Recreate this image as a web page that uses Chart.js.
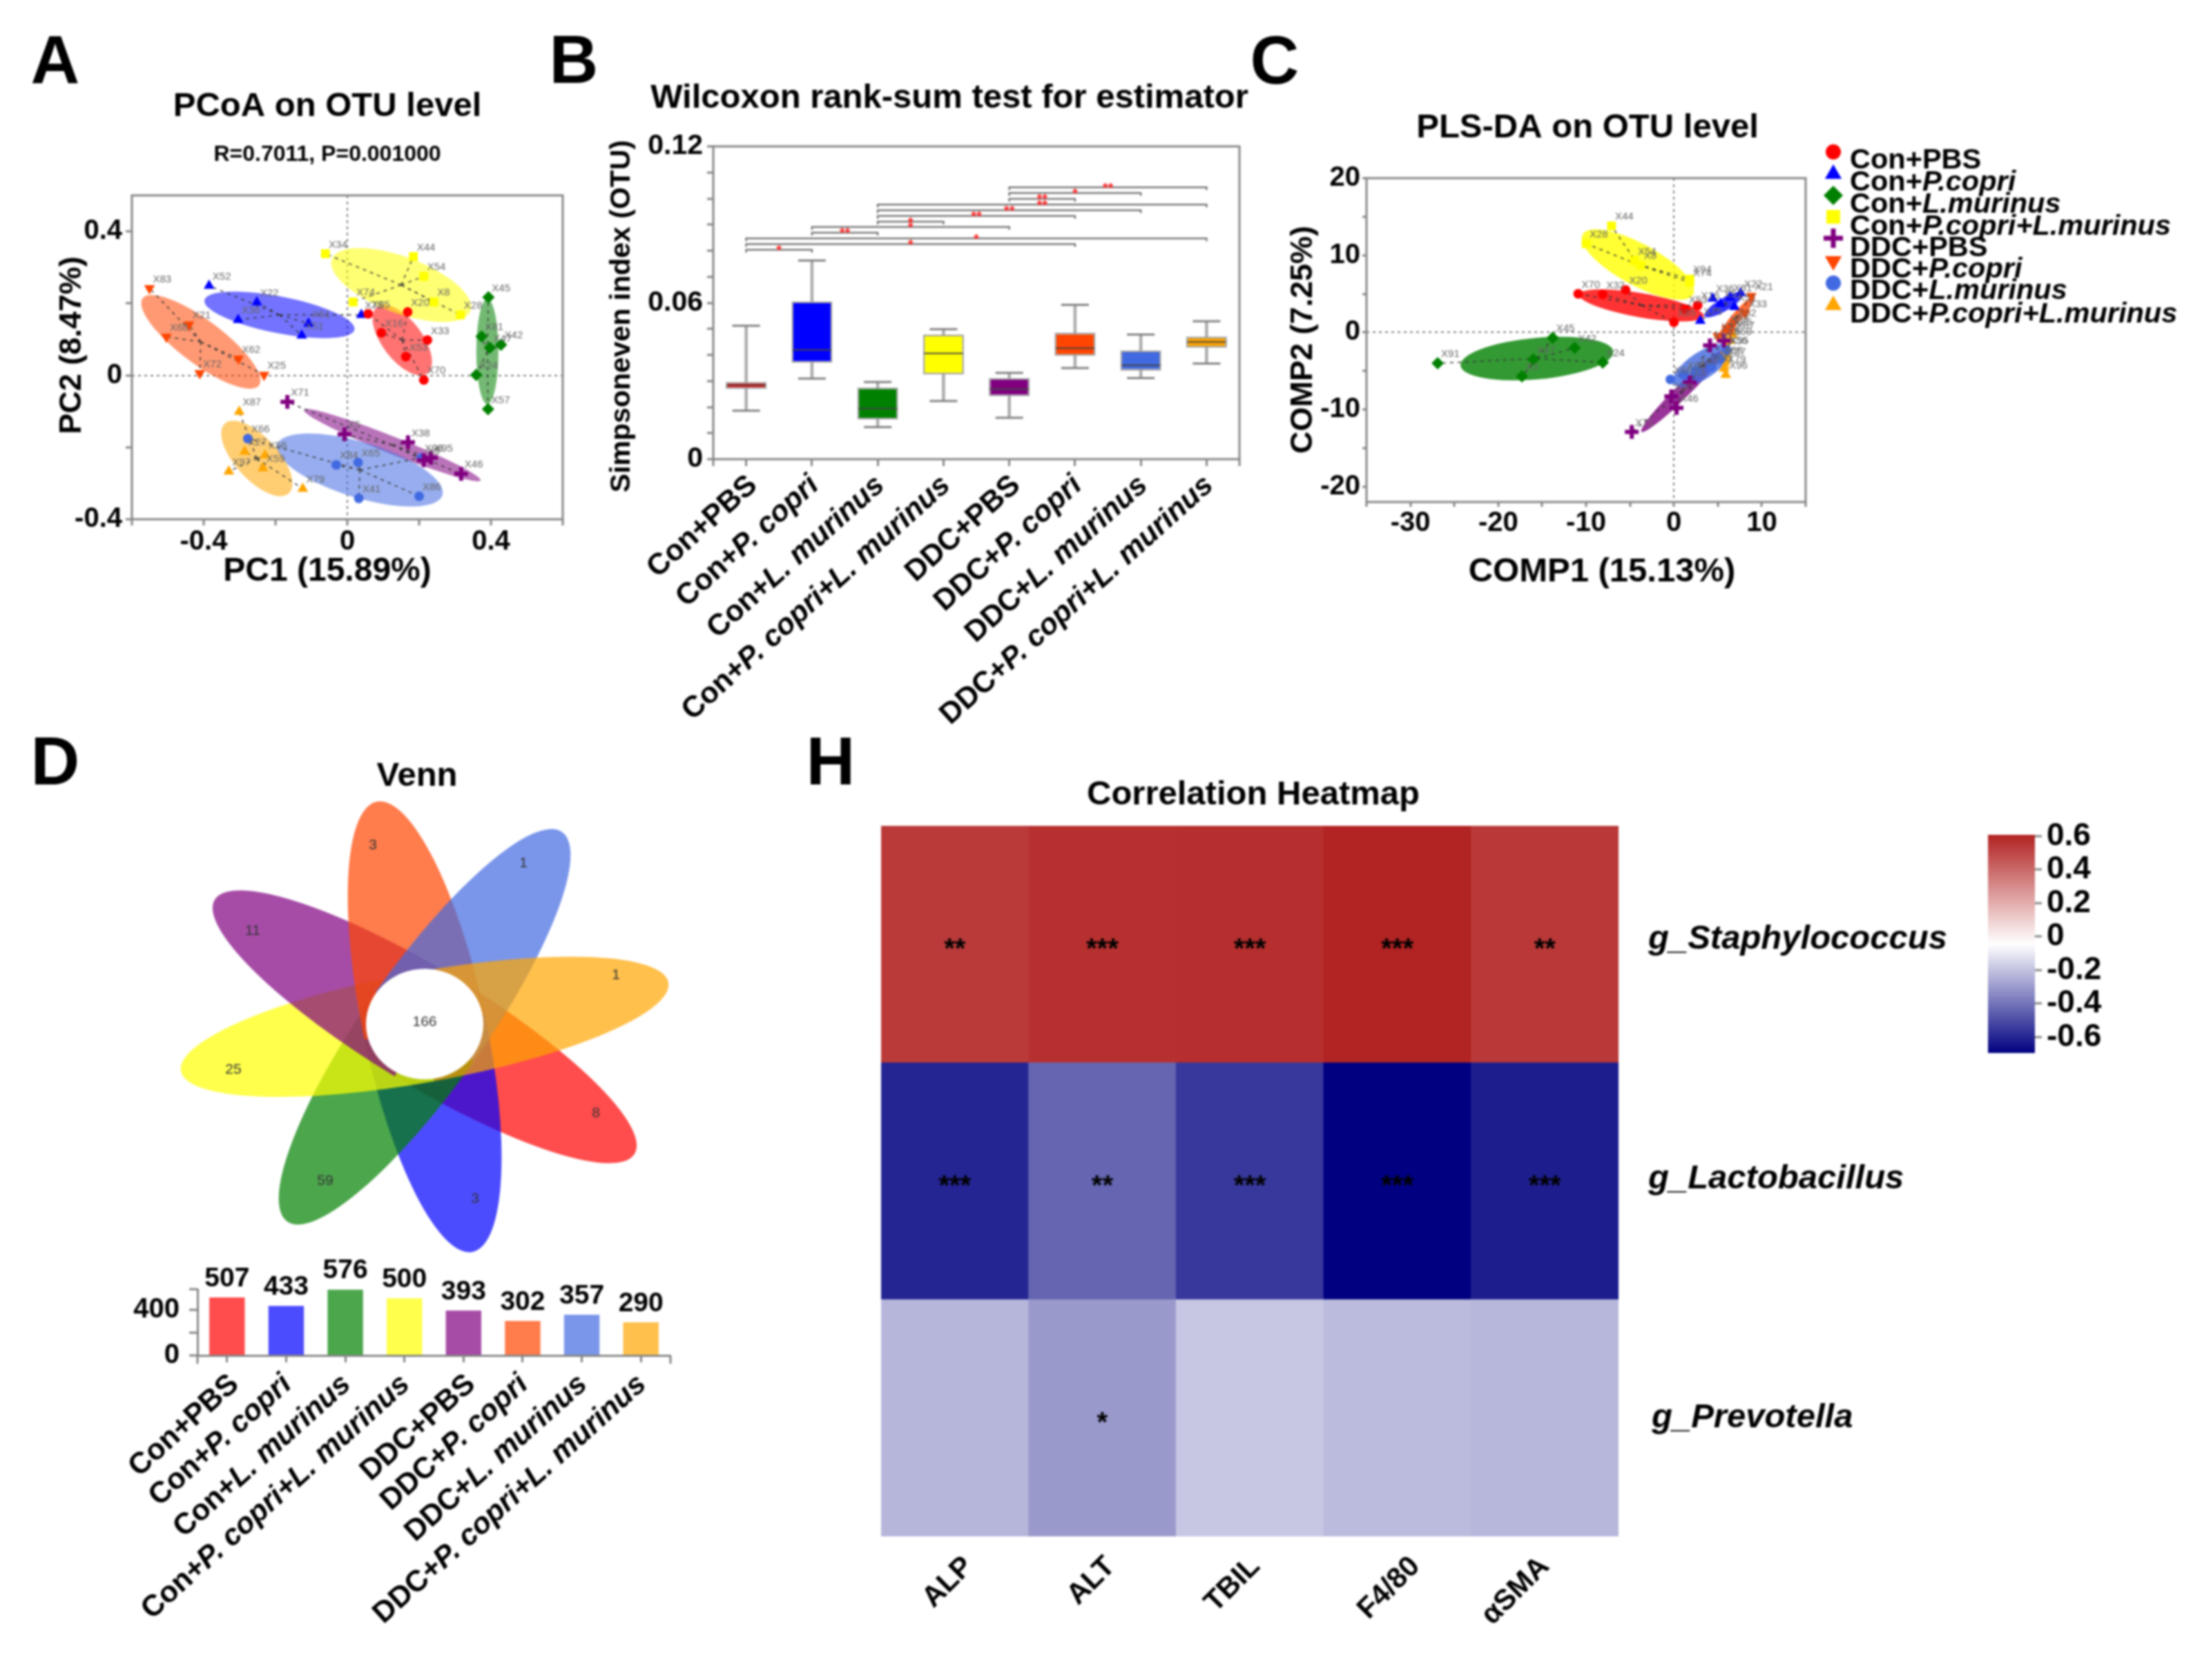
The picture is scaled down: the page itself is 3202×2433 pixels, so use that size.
<!DOCTYPE html>
<html>
<head>
<meta charset="utf-8">
<title>Gut microbiota panels</title>
<script src="https://cdn.jsdelivr.net/npm/chart.js@4"></script>
<style>
body { margin: 0; background: #fff; }
#figure { position: relative; width: 3202px; height: 2433px; overflow: hidden; filter: blur(1.4px); }
canvas { position: absolute; left: 0; top: 0; }
</style>
</head>
<body>
<div id="figure">
<canvas id="chart-pcoa" width="3202" height="2433"></canvas>
<canvas id="chart-box" width="3202" height="2433"></canvas>
<canvas id="chart-plsda" width="3202" height="2433"></canvas>
<canvas id="chart-venn" width="3202" height="2433"></canvas>
<canvas id="chart-count" width="3202" height="2433"></canvas>
<canvas id="chart-heat" width="3202" height="2433"></canvas>
<canvas id="chart-scale" width="3202" height="2433"></canvas>
</div>
<script>
// groups, same order everywhere
const group_names = ["Con+PBS", "Con+P. copri", "Con+L. murinus", "Con+P. copri+L. murinus", "DDC+PBS", "DDC+P. copri", "DDC+L. murinus", "DDC+P. copri+L. murinus"];
const legend_names = ["Con+PBS", "Con+P.copri", "Con+L.murinus", "Con+P.copri+L.murinus", "DDC+PBS", "DDC+P.copri", "DDC+L.murinus", "DDC+P.copri+L.murinus"];
const group_colors = ["#FF0000", "#0000FF", "#008000", "#FFFF00", "#800080", "#FF4500", "#4169E1", "#FFA500"];
const group_markers = ["circle", "triangle", "rectRot", "rect", "cross", "triangle", "circle", "triangle"];
const group_rotation = [0, 0, 0, 0, 0, 180, 0, 0];

// A: PCoA
const pcoa_x_con_pbs = [0.058, 0.168, 0.095, 0.223, 0.163, 0.213];
const pcoa_y_con_pbs = [0.171, 0.176, 0.118, 0.098, 0.052, -0.013];
const pcoa_n_con_pbs = ["X85", "X20", "X16", "X33", "X53", "X70"];
const pcoa_x_con_pc = [-0.385, -0.252, -0.304, -0.108, -0.127, 0.039];
const pcoa_y_con_pc = [0.249, 0.203, 0.154, 0.144, 0.111, 0.168];
const pcoa_n_con_pc = ["X52", "X22", "X36", "X61", "X51", "X75"];
const pcoa_x_con_lm = [0.393, 0.374, 0.397, 0.428, 0.359, 0.392];
const pcoa_y_con_lm = [0.217, 0.108, 0.077, 0.085, 0.001, -0.094];
const pcoa_n_con_lm = ["X45", "X81", "X47", "X42", "X24", "X57"];
const pcoa_x_con_both = [-0.061, 0.184, 0.213, 0.241, 0.315, 0.016];
const pcoa_y_con_both = [0.338, 0.330, 0.275, 0.204, 0.168, 0.204];
const pcoa_n_con_both = ["X34", "X44", "X54", "X8", "X28", "X74"];
const pcoa_x_ddc_pbs = [-0.167, -0.008, 0.169, 0.233, 0.213, 0.317];
const pcoa_y_ddc_pbs = [-0.074, -0.164, -0.186, -0.229, -0.236, -0.274];
const pcoa_n_ddc_pbs = ["X71", "X5", "X38", "X95", "X9", "X46"];
const pcoa_x_ddc_pc = [-0.551, -0.441, -0.504, -0.303, -0.411, -0.232];
const pcoa_y_ddc_pc = [0.242, 0.141, 0.107, 0.046, 0.006, 0.001];
const pcoa_n_ddc_pc = ["X83", "X21", "X68", "X62", "X72", "X25"];
const pcoa_x_ddc_lm = [-0.277, -0.031, 0.030, 0.206, 0.032, 0.200];
const pcoa_y_ddc_lm = [-0.176, -0.249, -0.242, -0.229, -0.342, -0.336];
const pcoa_n_ddc_lm = ["X66", "X84", "X65", "X98", "X41", "X86"];
const pcoa_x_ddc_both = [-0.301, -0.286, -0.229, -0.235, -0.330, -0.124];
const pcoa_y_ddc_both = [-0.101, -0.212, -0.222, -0.258, -0.267, -0.315];
const pcoa_n_ddc_both = ["X87", "X27", "X56", "X59", "X97", "X79"];
// centre x, centre y, end of long axis x, y, short/long ratio
const pcoa_ellipses = [
    [0.153, 0.098, 0.223, 0.006, 0.48], [-0.189, 0.168, 0.020, 0.127, 0.24],
    [0.390, 0.066, 0.390, -0.080, 0.21], [0.150, 0.251, 0.343, 0.179, 0.38],
    [0.125, -0.194, 0.371, -0.292, 0.09], [-0.408, 0.093, -0.246, -0.028, 0.30],
    [0.035, -0.263, 0.265, -0.333, 0.32], [-0.252, -0.231, -0.163, -0.328, 0.45]
];
const pcoa_ticks = [-0.6, -0.4, -0.2, 0, 0.2, 0.4, 0.6];
const pcoa_yticks = [-0.4, -0.2, 0, 0.2, 0.4];
const pcoa_labelled = [-0.4, 0, 0.4];

// B: box plot
const box_low = [0.0186, 0.0309, 0.0123, 0.0223, 0.0159, 0.0350, 0.0311, 0.0367];
const box_q1 = [0.0270, 0.0370, 0.0152, 0.0325, 0.0242, 0.0397, 0.0340, 0.0428];
const box_median = [0.0284, 0.0419, 0.0194, 0.0406, 0.0269, 0.0426, 0.0360, 0.0450];
const box_q3 = [0.0296, 0.0605, 0.0275, 0.0478, 0.0311, 0.0485, 0.0417, 0.0470];
const box_high = [0.0512, 0.0762, 0.0296, 0.0499, 0.0331, 0.0592, 0.0478, 0.0529];
const bracket_from = [0, 0, 0, 1, 1, 2, 2, 2, 2, 4, 4, 4];
const bracket_to = [1, 5, 7, 2, 4, 3, 5, 6, 7, 5, 6, 7];
const bracket_height = [0.0803, 0.0825, 0.0847, 0.0869, 0.0891, 0.0911, 0.0933, 0.0955, 0.0977, 0.0999, 0.1021, 0.1043];
const bracket_stars = ["*", "*", "*", "**", "*", "*", "**", "**", "**", "**", "*", "**"];
const box_ticks = [0, 0.01, 0.02, 0.03, 0.04, 0.05, 0.06, 0.07, 0.08, 0.09, 0.10, 0.11, 0.12];
const box_labelled = [0, 0.06, 0.12];

// C: PLS-DA
const pls_x_con_pbs = [-10.9, -8.1, -5.5, 2.7, 1.3, 0];
const pls_y_con_pbs = [5, 4.9, 5.5, 3.5, 3, 1.3];
const pls_n_con_pbs = ["X70", "X32", "X20", "X16", "X53", "X85"];
const pls_x_con_pc = [3, 4.4, 5.3, 6.4, 6.9, 7.6];
const pls_y_con_pc = [1.5, 4.4, 3.7, 4.5, 3.3, 5.1];
const pls_n_con_pc = ["X75", "X36", "X52", "X61", "X51", "X22"];
const pls_x_con_lm = [-26.9, -13.8, -11.3, -8.1, -16, -17.3];
const pls_y_con_lm = [-4, -0.7, -2, -3.9, -3.5, -5.7];
const pls_n_con_lm = ["X91", "X45", "X42", "X24", "X47", "X3"];
const pls_x_con_both = [-7.1, -10, -4.5, -3.8, 1.8, 1.8];
const pls_y_con_both = [13.8, 11.5, 9.3, 8.7, 6.9, 6.5];
const pls_n_con_both = ["X44", "X28", "X54", "X8", "X94", "X74"];
const pls_x_ddc_pbs = [-4.8, 0.3, -0.3, 1.8, 4.1, 5.7];
const pls_y_ddc_pbs = [-12.9, -9.8, -8.3, -6.5, -1.7, -1.1];
const pls_n_ddc_pbs = ["X71", "X46", "X38", "X5", "X95", "X9"];
const pls_x_ddc_pc = [8.8, 8.1, 6.9, 6, 5, 6.4];
const pls_y_ddc_pc = [4.7, 2.5, 1.3, 0.5, -0.5, 0.1];
const pls_n_ddc_pc = ["X21", "X33", "X62", "X83", "X72", "X25"];
const pls_x_ddc_lm = [-0.4, 1.1, 2.5, 4.3, 6, 5.3];
const pls_y_ddc_lm = [-6.1, -5.5, -5, -4.5, -2.3, -3.5];
const pls_n_ddc_lm = ["X66", "X84", "X65", "X41", "X35", "X86"];
const pls_x_ddc_both = [5.9, 5.7, 5.9, 6.4, 6.7, 5.7];
const pls_y_ddc_both = [-5.5, -3.7, -2.3, -1.1, -0.3, -4.7];
const pls_n_ddc_both = ["X96", "X27", "X56", "X59", "X87", "X79"];
const pls_ellipses = [
    [-3.7, 3.5, 3.4, 2.1, 0.19], [5.7, 3.6, 7.9, 5.1, 0.28],
    [-15.6, -3.4, -6.9, -2.5, 0.27], [-4.1, 8.8, 2.2, 4.9, 0.33],
    [1.0, -7.6, 5.7, -2.3, 0.12], [7.1, 1.9, 9.2, 4.7, 0.17],
    [3.2, -4.3, 6.4, -1.9, 0.40], [6, -2.7, 6, -5.1, 0.2]
];
const pls_xticks = [-35, -30, -25, -20, -15, -10, -5, 0, 5, 10, 15];
const pls_yticks = [-20, -15, -10, -5, 0, 5, 10, 15, 20];
const pls_xlabelled = [-30, -20, -10, 0, 10];
const pls_ylabelled = [-20, -10, 0, 10, 20];

// D: Venn flower and set sizes
const venn_counts = [8, 3, 59, 25, 11, 3, 1, 1];
const venn_core = 166;
const set_sizes = [507, 433, 576, 500, 393, 302, 357, 290];
const set_ticks = [0, 200, 400, 580];
const set_labelled = [0, 400];

// H: correlation heatmap
const heat_cols = ["ALP", "ALT", "TBIL", "F4/80", "αSMA"];
const heat_rows = ["g_Prevotella", "g_Lactobacillus", "g_Staphylococcus"];
const heat_prevotella = [-0.229, -0.304, -0.186, -0.217, -0.227];
const heat_lactobacillus = [-0.603, -0.437, -0.552, -0.695, -0.621];
const heat_staphylococcus = [0.537, 0.567, 0.573, 0.605, 0.543];
const stars_prevotella = ["", "*", "", "", ""];
const stars_lactobacillus = ["***", "**", "***", "***", "***"];
const stars_staphylococcus = ["**", "***", "***", "***", "**"];
const scale_ticks = [-0.6, -0.4, -0.2, 0, 0.2, 0.4, 0.6];
const scale_min = -0.695;
const scale_max = 0.608;

const FONT = '"Liberation Sans", Arial, sans-serif';
const AXIS = "#858585";
const W = 3202, H = 2433;
const ROOM = 160; // tick labels get clipped to the axis box, so every axis keeps this much

function bold(size) { return "bold " + size + "px " + FONT; }

function alpha(hex, a) {
    const n = parseInt(hex.slice(1), 16);
    return "rgba(" + (n >> 16) + "," + ((n >> 8) & 255) + "," + (n & 255) + "," + a + ")";
}

function putText(ctx, text, x, y, font, align, rot, color) {
    ctx.save();
    ctx.font = font;
    ctx.fillStyle = color || "#000";
    ctx.textAlign = align || "center";
    ctx.textBaseline = "middle";
    ctx.translate(x, y);
    if (rot) ctx.rotate(rot * Math.PI / 180);
    ctx.fillText(text, 0, 3);
    ctx.restore();
}

// "Con+" upright, species part italic; anchor is the end of the text when endAnchor
function putGroup(ctx, name, x, y, size, rot, endAnchor) {
    const plain = name.slice(0, 4);
    const rest = name.slice(4);
    const restFont = (rest === "PBS" ? "bold " : "italic bold ") + size + "px " + FONT;
    ctx.save();
    ctx.fillStyle = "#000";
    ctx.textBaseline = "middle";
    ctx.textAlign = "left";
    ctx.translate(x, y);
    ctx.rotate(rot * Math.PI / 180);
    ctx.font = bold(size);
    const w1 = ctx.measureText(plain).width;
    ctx.font = restFont;
    const w2 = ctx.measureText(rest).width;
    const start = endAnchor ? -(w1 + w2) : 0;
    ctx.font = bold(size);
    ctx.fillText(plain, start, 0);
    ctx.font = restFont;
    ctx.fillText(rest, start + w1, 0);
    ctx.restore();
}

// titles, axis names, panel letters, frame. Coordinates are page pixels.
Chart.register({
    id: "page",
    afterDraw(chart, args, opts) {
        const ctx = chart.ctx;
        const a = chart.chartArea;
        if (opts.frame) {
            ctx.save();
            ctx.strokeStyle = AXIS;
            ctx.lineWidth = 3;
            ctx.strokeRect(a.left, a.top, a.width, a.height);
            ctx.restore();
        }
        if (opts.endTicks) {
            ctx.save();
            ctx.strokeStyle = AXIS;
            ctx.lineWidth = 3;
            ctx.beginPath();
            ctx.moveTo(a.left, a.bottom); ctx.lineTo(a.left, a.bottom + opts.endTicks);
            ctx.moveTo(a.right, a.bottom); ctx.lineTo(a.right, a.bottom + opts.endTicks);
            ctx.stroke();
            ctx.restore();
        }
        (opts.texts || []).forEach(t => putText(ctx, t[0], t[1], t[2], t[3], t[4], t[5]));
    }
});

// confidence ellipses, spokes and sample names for the two ordination panels
const groupMarks = {
    id: "groupMarks",
    beforeDatasetsDraw(chart, args, opts) {
        const ctx = chart.ctx;
        const sx = chart.scales.x, sy = chart.scales.y;
        opts.ellipses.forEach((e, i) => {
            const cx = sx.getPixelForValue(e[0]), cy = sy.getPixelForValue(e[1]);
            const ex = sx.getPixelForValue(e[2]), ey = sy.getPixelForValue(e[3]);
            const long = Math.hypot(ex - cx, ey - cy);
            ctx.beginPath();
            ctx.ellipse(cx, cy, long, long * e[4], Math.atan2(ey - cy, ex - cx), 0, Math.PI * 2);
            ctx.fillStyle = alpha(group_colors[i], opts.fill);
            ctx.fill();
        });
        ctx.save();
        ctx.strokeStyle = "#333";
        ctx.lineWidth = 1.5;
        ctx.setLineDash([5, 6]);
        chart.data.datasets.forEach((ds, i) => {
            const cx = sx.getPixelForValue(opts.ellipses[i][0]), cy = sy.getPixelForValue(opts.ellipses[i][1]);
            ds.data.forEach(p => {
                ctx.beginPath();
                ctx.moveTo(cx, cy);
                ctx.lineTo(sx.getPixelForValue(p.x), sy.getPixelForValue(p.y));
                ctx.stroke();
            });
        });
        ctx.restore();
    },
    afterDatasetsDraw(chart, args, opts) {
        const sx = chart.scales.x, sy = chart.scales.y;
        chart.data.datasets.forEach((ds, i) => {
            ds.data.forEach((p, j) => {
                putText(chart.ctx, opts.names[i][j], sx.getPixelForValue(p.x) + 5, sy.getPixelForValue(p.y) - 16, "15px " + FONT, "left", 0, "#666");
            });
        });
    }
};

// fixes the plot rectangle to page pixels, minus the room its axes take
function plotBox(left, top, right, bottom, axes) {
    const a = axes || "";
    return {
        padding: {
            left: left - (a.includes("l") ? ROOM : 0),
            top: top,
            right: W - right - (a.includes("r") ? ROOM : 0),
            bottom: H - bottom - (a.includes("b") ? ROOM : 0)
        }
    };
}

function valueAxis(position, values, labelled, min, max, size, pad, opts) {
    const o = opts || {};
    return {
        type: "linear",
        position: position,
        min: min,
        max: max,
        afterFit(scale) {
            if (scale.isHorizontal()) scale.height = ROOM; else scale.width = ROOM;
        },
        afterBuildTicks(scale) {
            scale.ticks = values.map(v => ({ value: v }));
        },
        border: { display: !!o.line, color: AXIS, width: 3, dash: o.zeroLine ? [4, 5] : [] },
        grid: {
            drawOnChartArea: !!o.zeroLine,
            color: c => c.tick && c.tick.value === 0 ? "#777" : "transparent",
            lineWidth: 2,
            tickColor: AXIS,
            tickWidth: 3,
            tickLength: o.tick || 9,
            tickBorderDash: []
        },
        ticks: {
            autoSkip: false,
            maxRotation: 0,
            padding: pad,
            color: "#000",
            font: { family: FONT, weight: "bold", size: size },
            callback: v => labelled.includes(v) ? String(v) : ""
        }
    };
}

function categoryAxis(line) {
    return {
        type: "category",
        afterFit(scale) { scale.height = ROOM; },
        border: { display: line, color: AXIS, width: 3 },
        grid: { drawOnChartArea: false, offset: false, tickColor: AXIS, tickWidth: 3, tickLength: 10 },
        ticks: { display: false, autoSkip: false }
    };
}

function scatterSets(xs, ys, radius) {
    return group_names.map((name, i) => ({
        label: name,
        data: xs[i].map((x, j) => ({ x: x, y: ys[i][j] })),
        pointStyle: group_markers[i],
        rotation: group_rotation[i],
        pointRadius: group_markers[i] === "circle" ? radius - 2 : group_markers[i] === "cross" ? radius + 1 : radius,
        backgroundColor: group_colors[i],
        borderColor: group_colors[i],
        borderWidth: group_markers[i] === "cross" ? 6 : 0,
        showLine: false
    }));
}

const commonOptions = {
    responsive: false,
    animation: false,
    devicePixelRatio: 1
};

// A
new Chart(document.getElementById("chart-pcoa").getContext("2d"), {
    type: "scatter",
    plugins: [groupMarks],
    data: {
        datasets: scatterSets(
            [pcoa_x_con_pbs, pcoa_x_con_pc, pcoa_x_con_lm, pcoa_x_con_both, pcoa_x_ddc_pbs, pcoa_x_ddc_pc, pcoa_x_ddc_lm, pcoa_x_ddc_both],
            [pcoa_y_con_pbs, pcoa_y_con_pc, pcoa_y_con_lm, pcoa_y_con_both, pcoa_y_ddc_pbs, pcoa_y_ddc_pc, pcoa_y_ddc_lm, pcoa_y_ddc_both],
            9)
    },
    options: {
        ...commonOptions,
        layout: plotBox(191, 283, 815, 752, "lb"),
        scales: {
            x: valueAxis("bottom", pcoa_ticks, pcoa_labelled, -0.6, 0.6, 40, 0, { zeroLine: true }),
            y: valueAxis("left", pcoa_yticks, pcoa_labelled, -0.4, 0.5, 40, 5, { zeroLine: true })
        },
        plugins: {
            legend: { display: false },
            tooltip: { enabled: false },
            groupMarks: {
                ellipses: pcoa_ellipses,
                fill: 0.55,
                names: [pcoa_n_con_pbs, pcoa_n_con_pc, pcoa_n_con_lm, pcoa_n_con_both, pcoa_n_ddc_pbs, pcoa_n_ddc_pc, pcoa_n_ddc_lm, pcoa_n_ddc_both]
            },
            page: {
                frame: true,
                texts: [
                    ["A", 80, 90, bold(98)],
                    ["PCoA on OTU level", 474, 151, bold(49)],
                    ["R=0.7011, P=0.001000", 474, 221, bold(32)],
                    ["PC1 (15.89%)", 474, 825, bold(48)],
                    ["PC2 (8.47%)", 102, 500, bold(45), "center", -90]
                ]
            }
        }
    }
});

// B
new Chart(document.getElementById("chart-box").getContext("2d"), {
    type: "bar",
    plugins: [{
        id: "boxParts",
        beforeDatasetsDraw(chart) {
            const ctx = chart.ctx, sx = chart.scales.x, sy = chart.scales.y;
            ctx.save();
            group_names.forEach((name, i) => {
                const x = sx.getPixelForValue(i);
                [box_low[i], box_high[i]].forEach(v => {
                    const y = sy.getPixelForValue(v);
                    ctx.strokeStyle = "#ababab";
                    ctx.lineWidth = 4.5;
                    ctx.beginPath();
                    ctx.moveTo(x, y); ctx.lineTo(x, sy.getPixelForValue(box_median[i]));
                    ctx.stroke();
                    ctx.strokeStyle = "#808080";
                    ctx.lineWidth = 3;
                    ctx.beginPath();
                    ctx.moveTo(x - 20, y); ctx.lineTo(x + 20, y);
                    ctx.stroke();
                });
            });
            ctx.restore();
        },
        afterDatasetsDraw(chart) {
            const ctx = chart.ctx, sx = chart.scales.x, sy = chart.scales.y;
            ctx.save();
            ctx.strokeStyle = "#444";
            ctx.lineWidth = 2;
            group_names.forEach((name, i) => {
                const x = sx.getPixelForValue(i), y = sy.getPixelForValue(box_median[i]);
                ctx.beginPath();
                ctx.moveTo(x - 28, y); ctx.lineTo(x + 28, y);
                ctx.stroke();
            });
            // significance brackets
            ctx.strokeStyle = "#777";
            ctx.lineWidth = 2.5;
            bracket_from.forEach((from, i) => {
                const x1 = sx.getPixelForValue(from), x2 = sx.getPixelForValue(bracket_to[i]);
                const y = sy.getPixelForValue(bracket_height[i]);
                ctx.beginPath();
                ctx.moveTo(x1, y + 4); ctx.lineTo(x1, y); ctx.lineTo(x2, y); ctx.lineTo(x2, y + 4);
                ctx.stroke();
                putText(ctx, bracket_stars[i], (x1 + x2) / 2, y - 1, bold(20), "center", 0, "#FF2020");
            });
            ctx.restore();
            group_names.forEach((name, i) => {
                const shift = name.endsWith("PBS") ? 10 : 4;
                putGroup(ctx, name, sx.getPixelForValue(i) + shift, chart.chartArea.bottom + 32, 43, -42, true);
            });
        }
    }],
    data: {
        labels: group_names,
        datasets: [{
            label: "Simpsoneven index",
            data: box_q1.map((q, i) => [q, box_q3[i]]),
            backgroundColor: group_colors,
            borderColor: "#a0a0a0",
            borderWidth: 2.5,
            borderSkipped: false,
            barPercentage: 0.62,
            categoryPercentage: 1
        }]
    },
    options: {
        ...commonOptions,
        layout: plotBox(1033, 212, 1795, 665, "lb"),
        scales: {
            x: categoryAxis(false),
            y: valueAxis("left", box_ticks, box_labelled, 0, 0.12, 41, 6)
        },
        plugins: {
            legend: { display: false },
            tooltip: { enabled: false },
            page: {
                frame: true,
                endTicks: 10,
                texts: [
                    ["B", 831, 90, bold(98)],
                    ["Wilcoxon rank-sum test for estimator", 1375, 139, bold(49)],
                    ["Simpsoneven index (OTU)", 898, 458, bold(41), "center", -90]
                ]
            }
        }
    }
});

// C
new Chart(document.getElementById("chart-plsda").getContext("2d"), {
    type: "scatter",
    plugins: [groupMarks, {
        id: "sideLegend",
        afterDraw(chart) {
            const ctx = chart.ctx;
            const markY = [220, 252, 283, 314, 345, 378, 410, 442];
            const textY = [233, 265, 297, 329, 360, 391, 422, 456];
            legend_names.forEach((name, i) => {
                ctx.save();
                ctx.fillStyle = group_colors[i];
                ctx.strokeStyle = group_colors[i];
                ctx.lineWidth = 7;
                Chart.helpers.drawPoint(ctx, {
                    pointStyle: group_markers[i],
                    rotation: group_rotation[i],
                    radius: group_markers[i] === "circle" ? 11 : 14,
                    borderWidth: group_markers[i] === "cross" ? 7 : 0
                }, 2655, markY[i]);
                ctx.restore();
                putGroup(ctx, name, 2679, textY[i], 41.5, 0, false);
            });
        }
    }],
    data: {
        datasets: scatterSets(
            [pls_x_con_pbs, pls_x_con_pc, pls_x_con_lm, pls_x_con_both, pls_x_ddc_pbs, pls_x_ddc_pc, pls_x_ddc_lm, pls_x_ddc_both],
            [pls_y_con_pbs, pls_y_con_pc, pls_y_con_lm, pls_y_con_both, pls_y_ddc_pbs, pls_y_ddc_pc, pls_y_ddc_lm, pls_y_ddc_both],
            9)
    },
    options: {
        ...commonOptions,
        layout: plotBox(1979, 258, 2615, 727, "lb"),
        scales: {
            x: valueAxis("bottom", pls_xticks, pls_xlabelled, -35, 15, 40, 0, { zeroLine: true, tick: 7 }),
            y: valueAxis("left", pls_yticks, pls_ylabelled, -22, 20, 40, 3, { zeroLine: true, tick: 6 })
        },
        plugins: {
            legend: { display: false },
            tooltip: { enabled: false },
            groupMarks: {
                ellipses: pls_ellipses,
                fill: 0.8,
                names: [pls_n_con_pbs, pls_n_con_pc, pls_n_con_lm, pls_n_con_both, pls_n_ddc_pbs, pls_n_ddc_pc, pls_n_ddc_lm, pls_n_ddc_both]
            },
            page: {
                frame: true,
                texts: [
                    ["C", 1846, 91, bold(98)],
                    ["PLS-DA on OTU level", 2299, 182, bold(49)],
                    ["COMP1 (15.13%)", 2320, 825, bold(49)],
                    ["COMP2 (7.25%)", 1885, 492, bold(45), "center", -90]
                ]
            }
        }
    }
});

// D flower: one half ellipse per group, drawn in group order; axes are the page itself
const petal_tip_dx = [304, 69.5, -199, -353, -304, -69.5, 199, 353];
const petal_tip_dy = [184, 326, 282, 64, -184, -326, -282, -64];
const petal_width = [84, 89, 87, 80, 84, 89, 87, 80];
const count_dx = [248, 73, -144, -277, -249, -75, 143, 277];
const count_dy = [125, 249, 223, 62, -139, -263, -237, -75];
const flower_x = 615, flower_y = 1487;

new Chart(document.getElementById("chart-venn").getContext("2d"), {
    type: "scatter",
    plugins: [{
        id: "flower",
        beforeDatasetsDraw(chart) {
            const ctx = chart.ctx, sx = chart.scales.x, sy = chart.scales.y;
            const cx = sx.getPixelForValue(flower_x), cy = sy.getPixelForValue(flower_y);
            group_colors.forEach((color, i) => {
                ctx.beginPath();
                ctx.ellipse(cx, cy, Math.hypot(petal_tip_dx[i], petal_tip_dy[i]), petal_width[i],
                    Math.atan2(petal_tip_dy[i], petal_tip_dx[i]), -Math.PI / 2, Math.PI / 2);
                ctx.closePath();
                ctx.fillStyle = alpha(color, 0.7);
                ctx.fill();
            });
            ctx.beginPath();
            ctx.ellipse(cx, cy - 4, 85, 80, 0, 0, Math.PI * 2);
            ctx.fillStyle = "#fff";
            ctx.fill();
        },
        afterDatasetsDraw(chart) {
            const ctx = chart.ctx;
            chart.data.datasets[0].data.forEach((p, i) => {
                const px = chart.scales.x.getPixelForValue(p.x), py = chart.scales.y.getPixelForValue(p.y);
                const text = i < venn_counts.length ? String(venn_counts[i]) : String(venn_core);
                putText(ctx, text, px, py - 3, "21px " + FONT, "center", 0, "#333");
            });
        }
    }],
    data: {
        datasets: [{
            label: "Venn",
            pointRadius: 0,
            data: venn_counts.map((c, i) => ({ x: flower_x + count_dx[i], y: flower_y + count_dy[i] })).concat([{ x: flower_x, y: flower_y - 7 }])
        }]
    },
    options: {
        ...commonOptions,
        layout: { padding: 0 },
        scales: {
            x: { type: "linear", display: false, min: 0, max: W },
            y: { type: "linear", display: false, min: 0, max: H, reverse: true }
        },
        plugins: {
            legend: { display: false },
            tooltip: { enabled: false },
            page: {
                texts: [
                    ["D", 80, 1106, bold(98)],
                    ["Venn", 604, 1121, bold(49)]
                ]
            }
        }
    }
});

// D bars
new Chart(document.getElementById("chart-count").getContext("2d"), {
    type: "bar",
    plugins: [{
        id: "countLabels",
        afterDatasetsDraw(chart) {
            const ctx = chart.ctx, sx = chart.scales.x, sy = chart.scales.y;
            set_sizes.forEach((v, i) => {
                putText(ctx, String(v), sx.getPixelForValue(i), sy.getPixelForValue(v) - 30, bold(39));
                const shift = group_names[i].endsWith("PBS") ? 11 : 2;
                putGroup(ctx, group_names[i], sx.getPixelForValue(i) + shift, chart.chartArea.bottom + 36, 43, -42, true);
            });
        }
    }],
    data: {
        labels: group_names,
        datasets: [{
            label: "OTUs",
            data: set_sizes,
            backgroundColor: group_colors.map(c => alpha(c, 0.7)),
            barPercentage: 0.6,
            categoryPercentage: 1
        }]
    },
    options: {
        ...commonOptions,
        layout: plotBox(286, 1867, 971, 1963, "lb"),
        scales: {
            x: categoryAxis(true),
            y: valueAxis("left", set_ticks, set_labelled, 0, 580, 40, 14, { line: true, tick: 12 })
        },
        plugins: {
            legend: { display: false },
            tooltip: { enabled: false },
            page: { endTicks: 12 }
        }
    }
});

// H
function heatColor(v) {
    const mid = (scale_min + scale_max) / 2;
    if (v >= mid) {
        const k = (v - mid) / (scale_max - mid);
        return "rgb(" + Math.round(255 - 77 * k) + "," + Math.round(255 - 221 * k) + "," + Math.round(255 - 221 * k) + ")";
    }
    const k = (mid - v) / (mid - scale_min);
    return "rgb(" + Math.round(255 - 255 * k) + "," + Math.round(255 - 255 * k) + "," + Math.round(255 - 127 * k) + ")";
}

new Chart(document.getElementById("chart-heat").getContext("2d"), {
    type: "bar",
    plugins: [{
        id: "heatText",
        afterDatasetsDraw(chart) {
            const ctx = chart.ctx, sx = chart.scales.x, sy = chart.scales.y;
            const starRows = [stars_prevotella, stars_lactobacillus, stars_staphylococcus];
            const colEnd = [18, 10, 6, 24, -2];
            const rowLabelX = [2392, 2387, 2387];
            const rowLabelDy = [-3, -6, -10];
            starRows.forEach((stars, r) => {
                stars.forEach((s, c) => {
                    putText(ctx, s, sx.getPixelForValue(c), sy.getPixelForValue(r + 0.5) + 5, bold(40));
                });
                putText(ctx, heat_rows[r], rowLabelX[r], sy.getPixelForValue(r + 0.5) + rowLabelDy[r], "italic bold 49px " + FONT, "left");
            });
            heat_cols.forEach((name, c) => {
                putText(ctx, name, sx.getPixelForValue(c) + colEnd[c], chart.chartArea.bottom + 35, bold(42), "right", -45);
            });
        }
    }],
    data: {
        labels: heat_cols,
        datasets: [heat_prevotella, heat_lactobacillus, heat_staphylococcus].map((row, r) => ({
            label: heat_rows[r],
            data: row.map(() => 1),
            backgroundColor: row.map(heatColor),
            barPercentage: 1,
            categoryPercentage: 1,
            stack: "rows"
        }))
    },
    options: {
        ...commonOptions,
        layout: plotBox(1276, 1196, 2344, 2225),
        scales: {
            x: { type: "category", display: false, stacked: true },
            y: { type: "linear", display: false, stacked: true, min: 0, max: 3 }
        },
        plugins: {
            legend: { display: false },
            tooltip: { enabled: false },
            page: {
                texts: [
                    ["H", 1203, 1106, bold(98)],
                    ["Correlation Heatmap", 1815, 1148, bold(49)]
                ]
            }
        }
    }
});

// H colour bar
new Chart(document.getElementById("chart-scale").getContext("2d"), {
    type: "bar",
    data: {
        labels: ["r"],
        datasets: [{
            label: "r",
            data: [[scale_min, scale_max]],
            barPercentage: 1,
            categoryPercentage: 1,
            backgroundColor(c) {
                const area = c.chart.chartArea;
                if (!area) return "#fff";
                const g = c.chart.ctx.createLinearGradient(0, area.bottom, 0, area.top);
                g.addColorStop(0, "#000080");
                g.addColorStop(0.5, "#ffffff");
                g.addColorStop(1, "#B22222");
                return g;
            }
        }]
    },
    options: {
        ...commonOptions,
        layout: plotBox(2879, 1209, 2947, 1525, "r"),
        scales: {
            x: { type: "category", display: false },
            y: valueAxis("right", scale_ticks, scale_ticks, scale_min, scale_max, 46, 7, { tick: 10 })
        },
        plugins: {
            legend: { display: false },
            tooltip: { enabled: false }
        }
    }
});
</script>
</body>
</html>
